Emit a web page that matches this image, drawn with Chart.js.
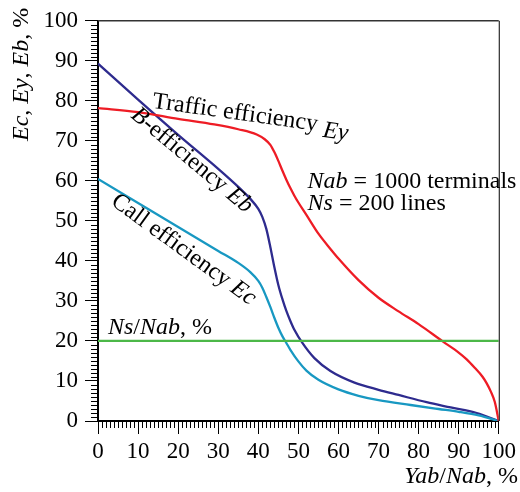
<!DOCTYPE html>
<html>
<head>
<meta charset="utf-8">
<script src="https://cdn.jsdelivr.net/npm/chart.js@4.4.1/dist/chart.umd.min.js"></script>
<style>
  html, body { margin: 0; padding: 0; background: #fff; }
  #wrap { width: 520px; height: 492px; }
</style>
</head>
<body>
<div id="wrap"><canvas id="effChart" width="520" height="492"></canvas></div>
<script>
// Yab/Nab, % (x) and efficiencies, % (y)
var ebX = [0, 10, 20, 30, 35, 38, 40, 41, 42, 43, 44, 45, 46, 47, 48, 49, 51, 54, 58, 64, 70, 75, 82, 88, 94.5, 100];
var ebY = [89.3, 80.3, 71.5, 63, 58.5, 55.5, 53, 51, 48, 43.5, 38.5, 34, 30.5, 27.5, 25, 22.8, 19.5, 15.7, 12.5, 9.6, 7.8, 6.5, 4.7, 3.4, 2.0, 0];

var eyX = [0, 10, 20, 29, 35, 39.6, 41.6, 43, 44, 45, 46, 47, 48, 49, 50, 52, 55, 58, 60, 65, 70, 75, 80, 86, 90, 92, 94, 96, 97, 98, 99, 100];
var eyY = [78.2, 77.2, 75.5, 74.1, 72.9, 71.6, 70.4, 69.0, 67.2, 65.0, 62.6, 60.3, 58.2, 56.3, 54.6, 51.5, 46.8, 43.0, 40.6, 35.2, 30.8, 27.4, 24.2, 19.9, 17.1, 15.4, 13.3, 11, 9.4, 7.4, 4.8, 0];

var ecX = [0, 10, 20, 30, 35, 38, 40, 41, 42, 43, 44, 45, 46, 47, 48, 50, 52, 55, 60, 65, 70, 78, 85, 90, 95, 100];
var ecY = [60.5, 54.5, 48.5, 42.5, 39.5, 37.2, 35, 33.3, 31, 28.5, 25.8, 23.3, 21.2, 19.5, 17.8, 14.9, 12.6, 10.3, 7.9, 6.3, 5.2, 4.0, 3.0, 2.3, 1.4, 0];

var nsX = [0, 100];
var nsY = [20, 20];

var xTicks = [0, 10, 20, 30, 40, 50, 60, 70, 80, 90, 100];
var yTicks = [0, 10, 20, 30, 40, 50, 60, 70, 80, 90, 100];

function pts(xs, ys) {
    return xs.map(function (x, i) { return { x: x, y: ys[i] }; });
}

var SERIF = '"Liberation Serif", "Times New Roman", serif';

// draws text made of plain / italic pieces
function richText(ctx, parts, x, y, angle, size, align) {
    ctx.save();
    ctx.translate(x, y);
    ctx.rotate(angle * Math.PI / 180);
    ctx.fillStyle = '#000';
    ctx.textBaseline = 'alphabetic';
    ctx.textAlign = 'left';
    var total = 0;
    parts.forEach(function (p) {
        ctx.font = (p.i ? 'italic ' : '') + size + 'px ' + SERIF;
        total += ctx.measureText(p.t).width;
    });
    var cx = align === 'right' ? -total : 0;
    parts.forEach(function (p) {
        ctx.font = (p.i ? 'italic ' : '') + size + 'px ' + SERIF;
        ctx.fillText(p.t, cx, p.dy || 0);
        cx += ctx.measureText(p.t).width;
    });
    ctx.restore();
}

var notes = [
    { x: 13.4, y: 78.3, a: 8, parts: [{ t: 'Traffic efficiency ' }, { t: 'Ey', i: true, dy: 5 }] },
    { x: 8.0, y: 76.0, a: 40, parts: [{ t: 'B', i: true }, { t: '-efficiency ' }, { t: 'Eb', i: true }] },
    { x: 3.0, y: 54.2, a: 36, parts: [{ t: 'Call efficiency ' }, { t: 'Ec', i: true }] },
    { x: 52.3, y: 58.2, a: 0, parts: [{ t: 'Nab', i: true }, { t: ' = 1000 terminals' }] },
    { x: 52.3, y: 52.7, a: 0, parts: [{ t: 'Ns', i: true }, { t: ' = 200 lines' }] },
    { x: 2.5, y: 21.8, a: 0, parts: [{ t: 'Ns', i: true }, { t: '/' }, { t: 'Nab', i: true }, { t: ', %' }] }
];

var decor = {
    id: 'decor',
    afterDraw: function (chart) {
        var ctx = chart.ctx, a = chart.chartArea;
        var xs = chart.scales.x, ys = chart.scales.y;
        ctx.save();
        // frame top and right
        ctx.strokeStyle = '#333';
        ctx.lineWidth = 1.5;
        ctx.beginPath();
        ctx.moveTo(a.left, a.top);
        ctx.lineTo(a.right, a.top);
        ctx.stroke();
        ctx.strokeStyle = '#000';
        ctx.lineWidth = 1;
        ctx.beginPath();
        ctx.moveTo(a.right + 0.5, a.top);
        ctx.lineTo(a.right + 0.5, a.bottom);
        ctx.stroke();
        // minor ticks
        ctx.lineWidth = 1;
        ctx.beginPath();
        for (var v = 0; v <= 100; v++) {
            if (v % 10 === 0) continue;
            var px = Math.round(xs.getPixelForValue(v)) + 0.5;
            ctx.moveTo(px, a.bottom);
            ctx.lineTo(px, a.bottom + 7);
            var py = Math.round(ys.getPixelForValue(v)) + 0.5;
            ctx.moveTo(a.left, py);
            ctx.lineTo(a.left - 7, py);
        }
        ctx.stroke();
        ctx.restore();

        notes.forEach(function (n) {
            richText(ctx, n.parts, xs.getPixelForValue(n.x), ys.getPixelForValue(n.y), n.a, 24);
        });
        // axis titles
        richText(ctx, [{ t: 'Ec', i: true }, { t: ', ' }, { t: 'Ey', i: true }, { t: ', ' }, { t: 'Eb', i: true }, { t: ', %' }],
            28, 141, -90, 24);
        richText(ctx, [{ t: 'Yab', i: true }, { t: '/' }, { t: 'Nab', i: true }, { t: ', %' }],
            518, 483, 0, 24, 'right');
    }
};

function lineSet(label, xs, ys, color) {
    return {
        label: label,
        data: pts(xs, ys),
        borderColor: color,
        borderWidth: 2.3,
        pointRadius: 0,
        fill: false,
        cubicInterpolationMode: 'monotone'
    };
}

var ctx = document.getElementById('effChart').getContext('2d');
var chart = new Chart(ctx, {
    type: 'line',
    data: {
        datasets: [
            lineSet('Ns/Nab, %', nsX, nsY, '#4cb848'),
            lineSet('Traffic efficiency Ey', eyX, eyY, '#ee1c25'),
            lineSet('Call efficiency Ec', ecX, ecY, '#1898c2'),
            lineSet('B-efficiency Eb', ebX, ebY, '#2e2b8e')
        ]
    },
    options: {
        responsive: false,
        animation: false,
        layout: { padding: { top: 17, right: 21, left: 0, bottom: 0 } },
        plugins: {
            legend: { display: false },
            tooltip: { enabled: false }
        },
        scales: {
            x: {
                type: 'linear',
                min: 0,
                max: 100,
                afterBuildTicks: function (s) { s.ticks = xTicks.map(function (v) { return { value: v }; }); },
                afterFit: function (s) { s.height = 71; },
                grid: { drawOnChartArea: false, drawTicks: true, tickLength: 13, tickColor: '#000', tickWidth: 1 },
                border: { display: true, color: '#000', width: 2 },
                ticks: { color: '#000', padding: 4, maxRotation: 0, font: { family: SERIF, size: 23 } }
            },
            y: {
                type: 'linear',
                min: 0,
                max: 100,
                afterBuildTicks: function (s) { s.ticks = yTicks.map(function (v) { return { value: v }; }); },
                afterFit: function (s) { s.width = 98; },
                grid: { drawOnChartArea: false, drawTicks: true, tickLength: 13, tickColor: '#000', tickWidth: 1 },
                border: { display: true, color: '#000', width: 2 },
                ticks: { color: '#000', padding: 7, font: { family: SERIF, size: 23 } }
            }
        }
    },
    plugins: [decor]
});
</script>
</body>
</html>
